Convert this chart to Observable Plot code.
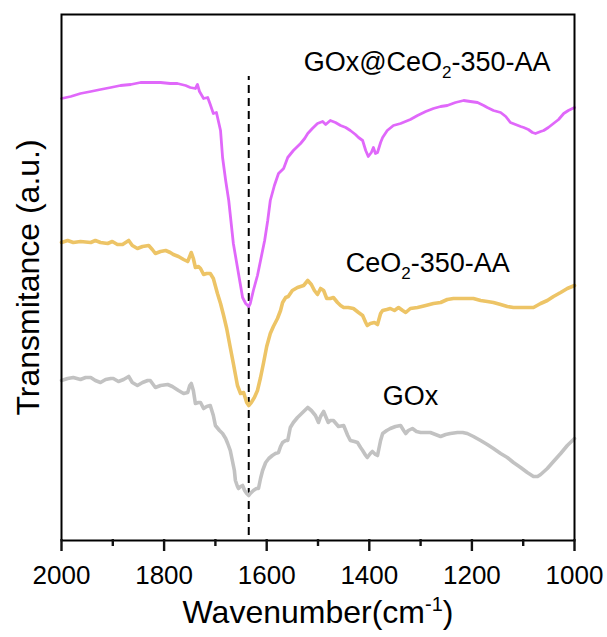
<!DOCTYPE html>
<html>
<head>
<meta charset="utf-8">
<script src="https://cdn.jsdelivr.net/npm/d3@7"></script>
<script src="https://cdn.jsdelivr.net/npm/@observablehq/plot@0.6"></script>
<style>
  html, body { margin: 0; padding: 0; background: #fff; }
  #chart svg { display: block; }
</style>
</head>
<body>
<div id="chart"></div>
<script>
// ---- Data (wavenumber in cm^-1, transmittance in arbitrary units) ----
const wnMag = [2000,1982,1963,1943,1924,1904,1885,1865,1846,1827,1807,1788,1774,1758,1749,1739,1735,1731,1723,1715,1710,1704,1698,1690,1686,1680,1674,1665,1657,1651,1647,1641,1635,1632,1626,1618,1612,1604,1598,1593,1585,1577,1567,1559,1548,1534,1526,1520,1511,1501,1491,1485,1476,1466,1456,1446,1437,1427,1421,1413,1407,1402,1396,1392,1388,1384,1378,1374,1365,1353,1339,1320,1306,1290,1275,1261,1248,1232,1216,1203,1189,1177,1170,1158,1144,1134,1125,1115,1105,1099,1090,1082,1076,1066,1060,1051,1041,1031,1021,1012,1000];
const tMag = [442,444,447,449,451,453,455,456,458,458,458,457,457,455,453,452,456,449,442,443,436,427,428,410,383,360,340,297,273,255,243,237,234,237,250,265,280,300,320,340,355,367,372,383,390,397,402,407,412,417,419,416,420,418,415,413,410,406,403,400,390,384,388,393,387,388,398,403,410,415,417,421,425,429,432,434,435,438,440,439,438,435,433,430,428,424,418,416,414,413,411,408,407,409,410,413,417,421,427,430,433];

const wnCe = [2000,1988,1977,1963,1943,1934,1924,1910,1901,1891,1881,1869,1862,1852,1842,1830,1823,1817,1807,1797,1788,1782,1772,1762,1754,1747,1743,1739,1733,1729,1723,1717,1710,1704,1696,1690,1684,1678,1671,1665,1657,1651,1645,1639,1635,1630,1624,1618,1612,1606,1600,1593,1587,1579,1573,1569,1563,1558,1550,1540,1534,1528,1520,1513,1507,1501,1495,1489,1483,1476,1470,1462,1456,1450,1441,1431,1421,1413,1407,1404,1398,1390,1384,1378,1374,1366,1359,1351,1343,1335,1329,1320,1306,1290,1275,1261,1248,1236,1222,1209,1197,1183,1170,1158,1144,1131,1119,1105,1092,1080,1066,1053,1041,1027,1014,1000];
const tCe = [298,300,298,299,298,300,298,297,299,296,296,300,295,292,294,295,291,287,289,290,288,286,284,281,279,288,282,273,274,272,266,267,267,262,247,237,225,212,193,177,155,147,148,138,135,138,143,150,163,178,194,207,214,222,230,238,243,244,250,253,254,255,260,256,250,246,252,250,242,242,243,238,235,233,233,232,228,225,218,215,217,218,216,227,230,231,232,230,233,230,228,232,233,235,237,238,241,242,242,242,242,240,239,238,236,234,233,233,233,233,237,240,244,248,252,255];

const wnGOx = [2000,1988,1977,1963,1953,1943,1934,1924,1914,1904,1899,1889,1879,1869,1862,1852,1842,1832,1827,1817,1807,1793,1784,1772,1762,1754,1750,1747,1743,1739,1733,1729,1723,1717,1710,1704,1700,1692,1686,1680,1676,1671,1667,1663,1661,1657,1655,1651,1647,1643,1639,1635,1632,1626,1620,1616,1612,1608,1602,1596,1589,1583,1577,1573,1569,1563,1559,1554,1548,1540,1534,1526,1520,1513,1505,1499,1495,1489,1485,1480,1476,1470,1460,1450,1442,1437,1429,1423,1417,1413,1407,1404,1398,1394,1388,1384,1378,1374,1366,1359,1349,1339,1333,1329,1324,1316,1308,1300,1290,1281,1271,1261,1251,1242,1228,1218,1209,1197,1183,1170,1158,1144,1131,1119,1105,1092,1080,1072,1066,1053,1041,1027,1014,1000];
const tGOx = [160,162,163,161,163,163,160,158,161,162,162,159,161,164,158,155,158,160,160,153,155,156,154,150,147,148,155,157,150,137,138,138,132,134,135,125,115,110,107,102,97,90,80,70,60,54,52,54,55,50,47,45,47,50,52,52,62,70,78,82,85,87,88,94,98,100,100,113,118,123,126,130,133,130,125,118,124,129,124,118,120,120,114,115,105,100,99,98,93,90,85,83,87,89,86,85,100,107,110,112,114,115,110,107,110,112,109,108,108,108,106,104,106,107,108,108,107,104,100,96,92,87,83,78,73,68,64,64,66,72,79,87,95,102];

const seriesNames = ["GOx@CeO2-350-AA", "CeO2-350-AA", "GOx"];
const seriesColors = ["#E068FA", "#EDC466", "#C2C2C2"];
const seriesWidths = [2.8, 3.6, 3.6];

const labelX = [1528, 1446, 1374];
const labelY = [478, 277, 144];

const dashX = [1635];
const dashY1 = [5];
const dashY2 = [464];

const majorTicks = [2000, 1800, 1600, 1400, 1200, 1000];
const minorTicks = [1900, 1700, 1500, 1300, 1100];

const xTitle = "Wavenumber(cm-1)";
const yTitle = "Transmitance (a.u.)";

// ---- Layout ----
const W = 607, H = 637, mL = 61, mR = 33, mT = 14, mB = 97;
const yDomain = [0, 526];
const majorLen = 11, minorLen = 6;   // tick lengths (1 y-unit = 1 px)
const tickHalf = 1.1;                // half tick width, px

// ---- Build tables ----
const toRows = (wn, t) => wn.map((w, i) => ({w, t: t[i]}));
const seriesRows = [toRows(wnMag, tMag), toRows(wnCe, tCe), toRows(wnGOx, tGOx)];
const labelRows = seriesNames.map((name, i) => ({name, x: labelX[i], y: labelY[i]}));
const dashRows = dashX.map((x, i) => ({x, y1: dashY1[i], y2: dashY2[i]}));
const tickRows = [
  ...majorTicks.map(x => ({x, y1: yDomain[0] + 1, y2: yDomain[0] - majorLen})),
  ...minorTicks.map(x => ({x, y1: yDomain[0] + 1, y2: yDomain[0] - minorLen}))
];

const plot = Plot.plot({
  width: W,
  height: H,
  marginLeft: mL,
  marginRight: mR,
  marginTop: mT,
  marginBottom: mB,
  style: {fontFamily: "'Liberation Sans', Arial, sans-serif"},
  x: {domain: [2000, 1000], axis: null},
  y: {domain: yDomain, axis: null},
  marks: [
    Plot.ruleX(dashRows, {x: "x", y1: "y1", y2: "y2", stroke: "black", strokeWidth: 2, strokeDasharray: "8,5"}),
    ...seriesRows.map((rows, i) =>
      Plot.line(rows, {x: "w", y: "t", stroke: seriesColors[i], strokeWidth: seriesWidths[i], strokeLinejoin: "round", strokeLinecap: "round"})
    ),
    Plot.text(labelRows, {x: "x", y: "y", text: "name", textAnchor: "start", lineAnchor: "middle", fontSize: 27, fill: "black"}),
    Plot.frame({stroke: "black", strokeWidth: 2}),
    // outward ticks as filled bars (rect elements), centred on each tick value
    Plot.rectY(tickRows, {x: "x", y1: "y1", y2: "y2", fill: "#111", insetLeft: 0, insetRight: 0,
      interval: null, x1: d => d.x, x2: d => d.x, dx: 0}),
    Plot.text(majorTicks, {x: d => d, text: d => String(d), frameAnchor: "bottom", textAnchor: "middle", lineAnchor: "middle", dy: 35, fontSize: 26, fill: "black"}),
    Plot.text([xTitle], {frameAnchor: "bottom", textAnchor: "middle", lineAnchor: "middle", dy: 72, fontSize: 32, fill: "black"}),
    Plot.text([yTitle], {frameAnchor: "left", textAnchor: "middle", lineAnchor: "middle", dx: -33, rotate: -90, fontSize: 32, fill: "black"}),
    Plot.ruleX(tickRows, {x: "x", y1: "y1", y2: "y2", stroke: "#111", strokeWidth: 2.4})
  ]
});

// widen the zero-width tick bars to the tick stroke width
plot.querySelectorAll("rect").forEach(r => {
  const w = +r.getAttribute("width");
  if (r.getAttribute("fill") === "#111" && w < 1) {
    r.setAttribute("x", +r.getAttribute("x") - tickHalf);
    r.setAttribute("width", 2 * tickHalf);
  }
});

// ---- Rich text: subscripts / superscripts ----
const NS = "http://www.w3.org/2000/svg";
function rich(t, segs) {
  t.textContent = "";
  let cur = 0;
  for (const [txt, shift = 0, size] of segs) {
    const sp = document.createElementNS(NS, "tspan");
    if (shift !== cur) { sp.setAttribute("dy", shift - cur); cur = shift; }
    if (size) sp.setAttribute("font-size", size);
    sp.textContent = txt;
    t.appendChild(sp);
  }
}
plot.querySelectorAll("text").forEach(t => {
  const s = t.textContent;
  if (s === "GOx@CeO2-350-AA") rich(t, [["GOx@CeO"], ["2", 7, 17], ["-350-AA", 0]]);
  else if (s === "CeO2-350-AA") rich(t, [["CeO"], ["2", 7, 17], ["-350-AA", 0]]);
  else if (s === "Wavenumber(cm-1)") rich(t, [["Wavenumber(cm"], ["-1", -12, 20], [")", 0]]);
});

document.getElementById("chart").appendChild(plot);
</script>
</body>
</html>
